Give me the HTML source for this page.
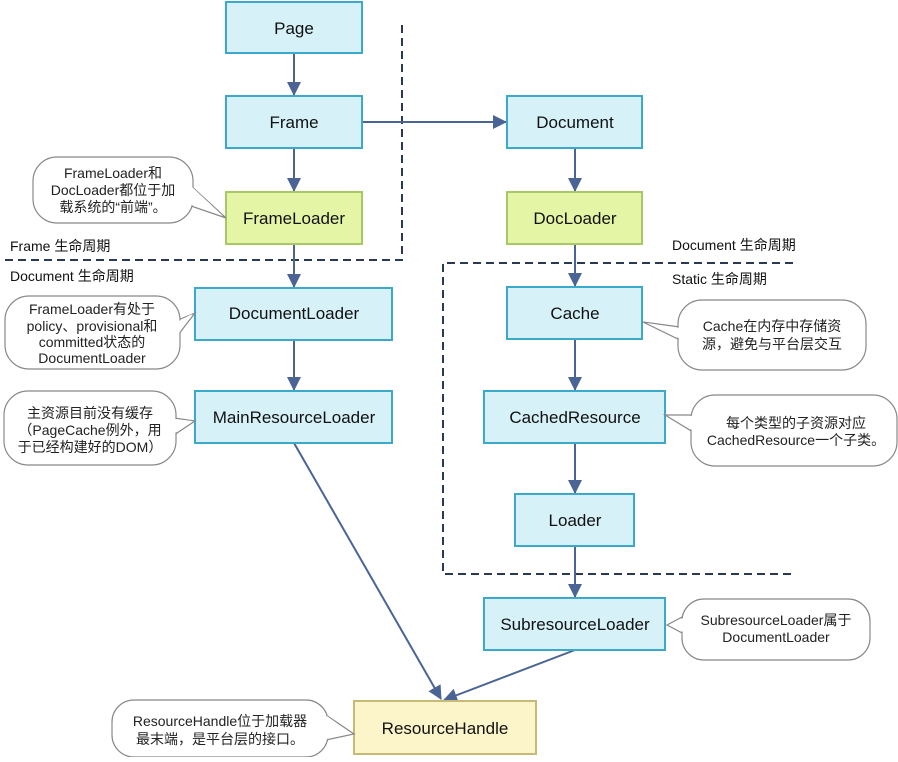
<!DOCTYPE html>
<html><head><meta charset="utf-8"><style>
body{margin:0;background:#fff;width:898px;height:757px;overflow:hidden}
text{font-family:"Liberation Sans","Noto Sans CJK SC",sans-serif}
.n{fill:#d6f1f8;stroke:#3ba9c9;stroke-width:2}
.g{fill:#e5f5a6;stroke:#a8c765;stroke-width:2}
.y{fill:#fbf5c9;stroke:#c7b976;stroke-width:2}
.t{font-size:17px;fill:#111;text-anchor:middle}
.c{font-size:14px;fill:#222;text-anchor:middle}
.l{font-size:14px;fill:#111}
.a{stroke:#4a6495;stroke-width:2;fill:none}
.d{stroke:#2a3a55;stroke-width:2;stroke-dasharray:8,5;fill:none}
.b{fill:#fff;stroke:#888;stroke-width:1.2}
.bf{fill:#fff;stroke:none}
</style></head><body>
<svg width="898" height="757" viewBox="0 0 898 757">
<defs><marker id="m" markerWidth="10" markerHeight="10" refX="9" refY="5" orient="auto" markerUnits="userSpaceOnUse"><path d="M0,0 L10,5 L0,10 Z" fill="#4a6495"/></marker>
<marker id="m2" markerWidth="14" markerHeight="14" refX="13" refY="7" orient="auto" markerUnits="userSpaceOnUse"><path d="M0,0 L14,7 L0,14 Z" fill="#4a6495"/></marker></defs>
<!-- dashed -->
<path class="d" d="M402,25 V260 H0"/>
<path class="d" d="M793,263 H443 V574 H793"/>
<!-- arrows -->
<line class="a" x1="294" y1="53" x2="294" y2="95" marker-end="url(#m2)"/>
<line class="a" x1="294" y1="148" x2="294" y2="191" marker-end="url(#m2)"/>
<line class="a" x1="294" y1="244" x2="294" y2="287" marker-end="url(#m2)"/>
<line class="a" x1="294" y1="340" x2="294" y2="390" marker-end="url(#m2)"/>
<line class="a" x1="362" y1="122" x2="506" y2="122" marker-end="url(#m2)"/>
<line class="a" x1="575" y1="148" x2="575" y2="191" marker-end="url(#m2)"/>
<line class="a" x1="575" y1="244" x2="575" y2="286" marker-end="url(#m2)"/>
<line class="a" x1="575" y1="339" x2="575" y2="390" marker-end="url(#m2)"/>
<line class="a" x1="575" y1="443" x2="575" y2="493" marker-end="url(#m2)"/>
<line class="a" x1="575" y1="546" x2="575" y2="597" marker-end="url(#m2)"/>
<line class="a" x1="294" y1="443" x2="441" y2="699" marker-end="url(#m2)"/>
<line class="a" x1="575" y1="650" x2="444" y2="700" marker-end="url(#m2)"/>
<!-- nodes -->
<rect class="n" x="226" y="2" width="136" height="51"/><text class="t" x="294" y="34">Page</text>
<rect class="n" x="226" y="96" width="136" height="52"/><text class="t" x="294" y="128">Frame</text>
<rect class="g" x="226" y="192" width="136" height="52"/><text class="t" x="294" y="224">FrameLoader</text>
<rect class="n" x="195" y="288" width="197" height="52"/><text class="t" x="294" y="319">DocumentLoader</text>
<rect class="n" x="195" y="391" width="197" height="52"/><text class="t" x="294" y="423">MainResourceLoader</text>
<rect class="n" x="507" y="96" width="135" height="52"/><text class="t" x="575" y="128">Document</text>
<rect class="g" x="507" y="192" width="135" height="52"/><text class="t" x="575" y="224">DocLoader</text>
<rect class="n" x="507" y="287" width="135" height="52"/><text class="t" x="575" y="319">Cache</text>
<rect class="n" x="484" y="391" width="181" height="52"/><text class="t" x="575" y="423">CachedResource</text>
<rect class="n" x="515" y="494" width="119" height="52"/><text class="t" x="575" y="526">Loader</text>
<rect class="n" x="484" y="598" width="181" height="52"/><text class="t" x="575" y="630">SubresourceLoader</text>
<rect class="y" x="354" y="701" width="182" height="53"/><text class="t" x="445" y="734">ResourceHandle</text>
<!-- labels -->
<text class="l" x="10" y="251">Frame 生命周期</text>
<text class="l" x="10" y="281">Document 生命周期</text>
<text class="l" x="672" y="250">Document 生命周期</text>
<text class="l" x="672" y="284">Static 生命周期</text>
<!-- callouts -->
<g>
<polygon class="b" points="190,185 226,218 188,205"/><rect class="b" x="33" y="157" width="160" height="66" rx="24"/><polygon class="bf" points="191,186 222,215 189,204"/>
<text class="c" x="113" y="178">FrameLoader和</text><text class="c" x="113" y="195">DocLoader都位于加</text><text class="c" x="113" y="212">载系统的“前端”。</text>
</g>
<g>
<polygon class="b" points="178,320 195,313 178,335"/><rect class="b" x="5" y="296" width="175" height="73" rx="24"/><polygon class="bf" points="179,321 192,314 179,333"/>
<text class="c" x="92" y="314">FrameLoader有处于</text><text class="c" x="92" y="331">policy、provisional和</text><text class="c" x="92" y="347">committed状态的</text><text class="c" x="92" y="363">DocumentLoader</text>
</g>
<g>
<polygon class="b" points="174,418 195,421 174,435"/><rect class="b" x="4" y="391" width="172" height="74" rx="24"/><polygon class="bf" points="175,419 192,421 175,433"/>
<text class="c" x="90" y="418">主资源目前没有缓存</text><text class="c" x="90" y="435">（PageCache例外，用</text><text class="c" x="90" y="452">于已经构建好的DOM）</text>
</g>
<g>
<polygon class="b" points="680,327 643,322 680,340"/><rect class="b" x="678" y="300" width="188" height="70" rx="24"/><polygon class="bf" points="679,328 647,323 679,338"/>
<text class="c" x="772" y="331">Cache在内存中存储资</text><text class="c" x="772" y="349">源，避免与平台层交互</text>
</g>
<g>
<polygon class="b" points="693,415 665,415 693,432"/><rect class="b" x="691" y="395" width="206" height="71" rx="24"/><polygon class="bf" points="692,416 669,416 692,430"/>
<text class="c" x="796" y="428">每个类型的子资源对应</text><text class="c" x="796" y="445">CachedResource一个子类。</text>
</g>
<g>
<polygon class="b" points="684,616 667,625 684,634"/><rect class="b" x="682" y="599" width="188" height="61" rx="22"/><polygon class="bf" points="685,617 670,625 685,633"/>
<text class="c" x="776" y="625">SubresourceLoader属于</text><text class="c" x="776" y="642">DocumentLoader</text>
</g>
<g>
<polygon class="b" points="326,715 354,734 326,740"/><rect class="b" x="112" y="700" width="216" height="57" rx="22"/><polygon class="bf" points="327,716 350,733 327,739"/>
<text class="c" x="220" y="726">ResourceHandle位于加载器</text><text class="c" x="220" y="744">最末端，是平台层的接口。</text>
</g>
</svg>
</body></html>
